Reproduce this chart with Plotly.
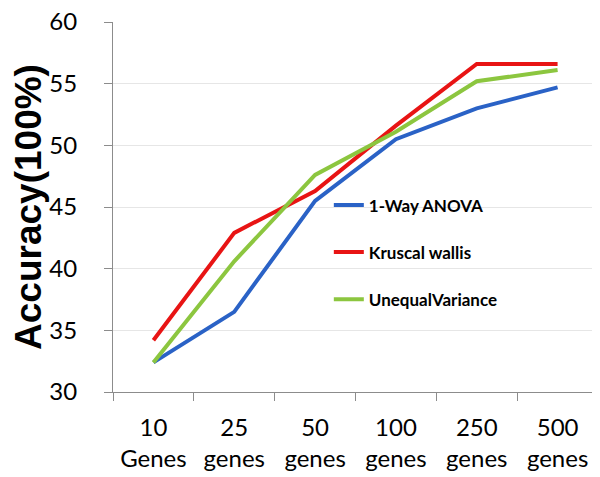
import plotly.graph_objects as go

categories = ["10<br>Genes", "25<br>genes", "50<br>genes",
              "100<br>genes", "250<br>genes", "500<br>genes"]
anova = [32.4, 36.5, 45.5, 50.5, 53.0, 54.7]
kruskal = [34.2, 42.9, 46.3, 51.6, 56.6, 56.6]
unequal = [32.4, 40.6, 47.6, 51.1, 55.2, 56.1]

series = [
    ("1-Way ANOVA", anova, "#2a62c6"),
    ("Kruscal wallis", kruskal, "#e81414"),
    ("UnequalVariance", unequal, "#8cc63f"),
]

fig = go.Figure()
for i, (name, vals, col) in enumerate(series):
    fig.add_trace(
        go.Scatter(
            x=categories,
            y=vals,
            name=name,
            mode="lines",
            line=dict(color=col, width=4),
            legendgroup=str(i),
        )
    )

axis_grey = "#8c8c8c"
# page body has an 8px margin, so the figure is a little smaller than the window
fig.update_layout(
    width=592,
    height=469,
    margin=dict(l=105, r=2, t=14, b=85),
    paper_bgcolor="white",
    plot_bgcolor="white",
    font=dict(family="Lato", size=24, color="black"),
    legend=dict(
        x=0.445,
        y=0.553,
        xanchor="left",
        yanchor="top",
        bgcolor="rgba(0,0,0,0)",
        tracegroupgap=22,
        font=dict(family="Lato", size=17, color="black", weight="bold"),
    ),
)
fig.update_yaxes(
    range=[30, 60.0001],
    tickvals=[30, 35, 40, 45, 50, 55, 60],
    showgrid=True,
    gridcolor="#e6e6e6",
    showline=True,
    linecolor=axis_grey,
    linewidth=1,
    ticks="outside",
    ticklen=8,
    tickcolor=axis_grey,
    ticklabelstandoff=22,
    ticklabeloverflow="allow",
    zeroline=False,
    automargin=False,
    title=dict(
        text="Accuracy(100%)",
        font=dict(family="Liberation Sans", size=37, weight="bold"),
        standoff=30,
    ),
)
fig.update_xaxes(
    type="category",
    showgrid=False,
    showline=True,
    linecolor=axis_grey,
    linewidth=1,
    ticks="outside",
    tickson="boundaries",
    ticklen=8,
    tickcolor=axis_grey,
    ticklabelstandoff=14,
    automargin=False,
    range=[-0.5, 5.5],
)

fig.write_html("out.html")
